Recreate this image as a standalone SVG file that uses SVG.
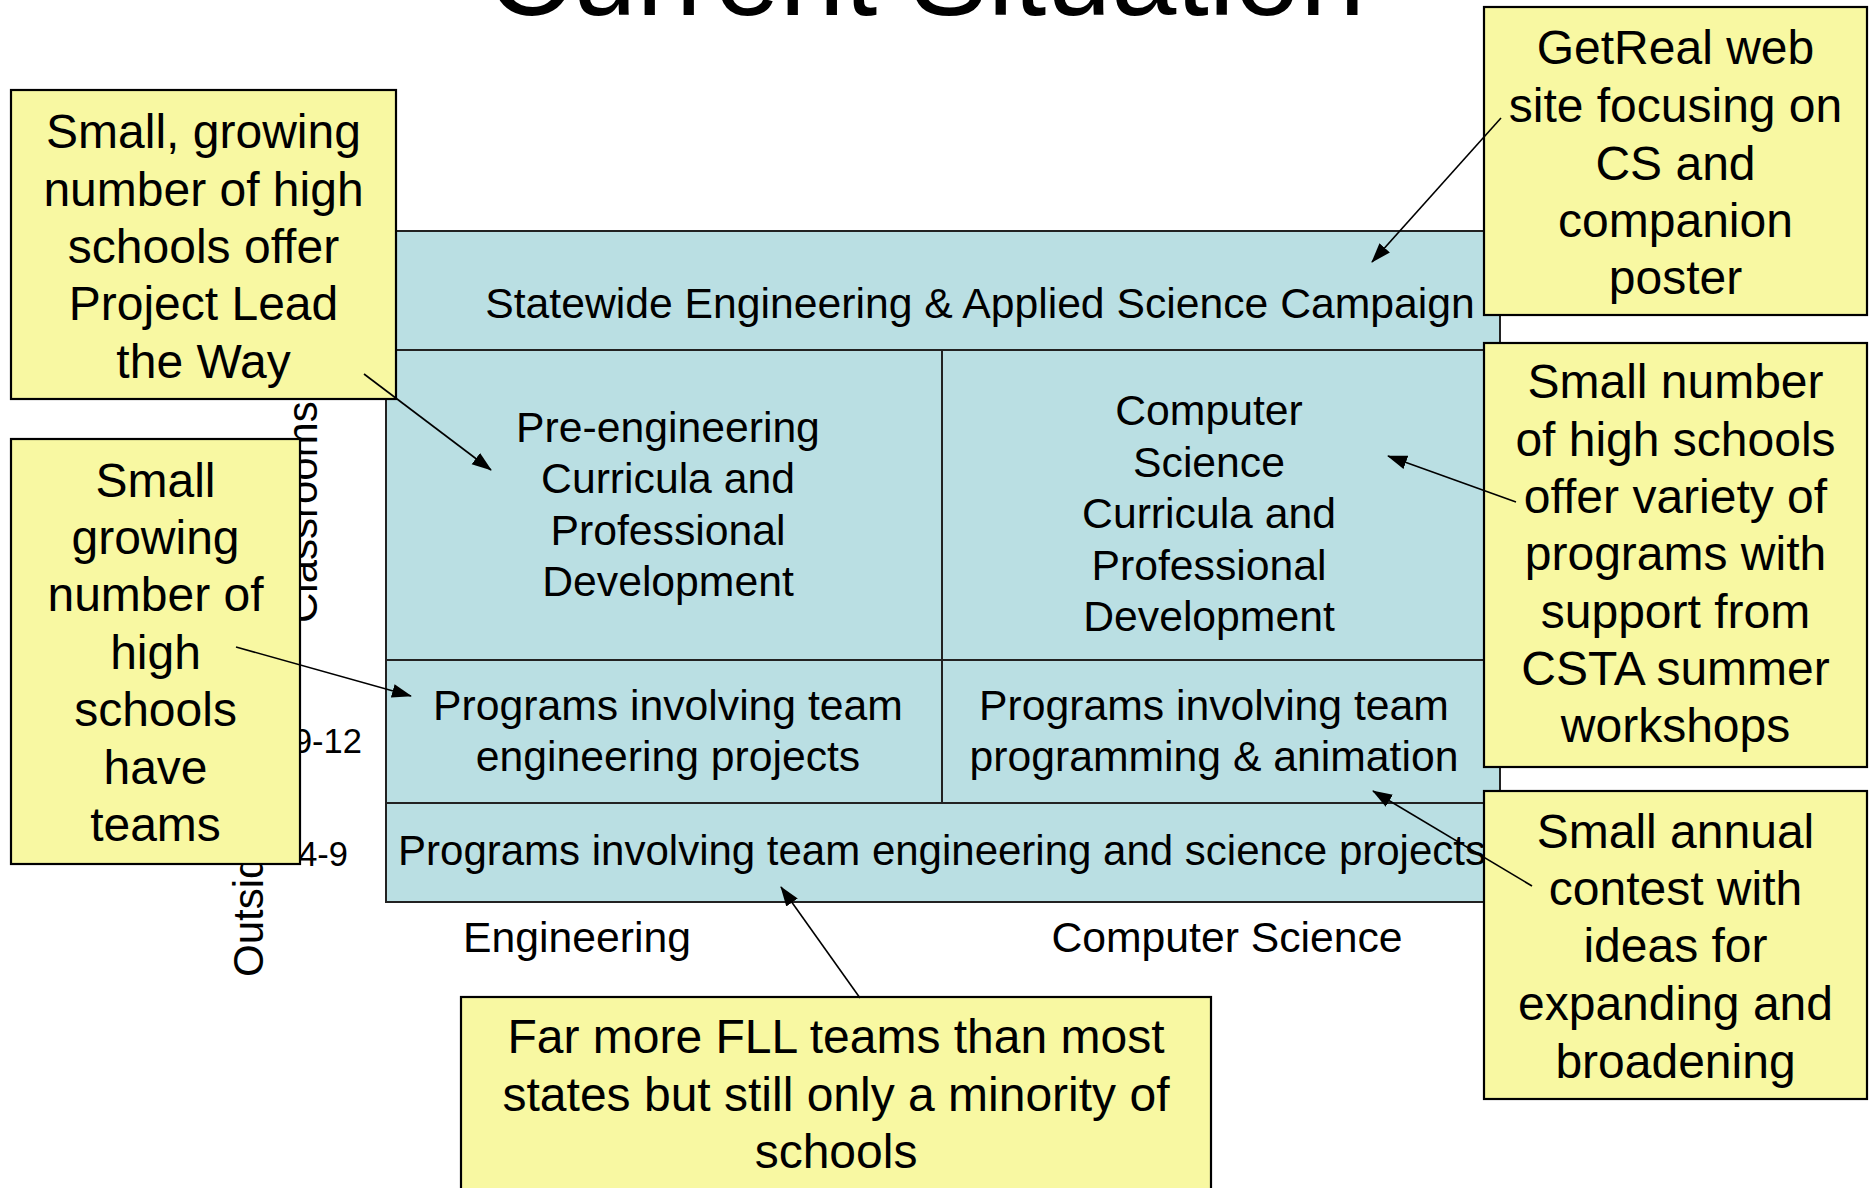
<svg xmlns="http://www.w3.org/2000/svg" width="1875" height="1188" viewBox="0 0 1875 1188">
<style>
text{font-family:"Liberation Sans",Arial,sans-serif;fill:#000}
.t{font-size:42.7px;text-anchor:middle}
.n{font-size:48px;text-anchor:middle}
.ax{font-size:42px}
.g{font-size:34.5px;text-anchor:end}
.cell{fill:#BADFE3;stroke:#222;stroke-width:2}
.div{stroke:#222;stroke-width:2;fill:none}
.note{fill:#F8F8A2;stroke:#000;stroke-width:2.2}
.con{stroke:#000;stroke-width:1.6;fill:none;marker-end:url(#ah)}
</style>
<defs>
<marker id="ah" markerUnits="userSpaceOnUse" markerWidth="20" markerHeight="16" refX="19" refY="8" orient="auto">
<path d="M0,1 L20,8 L0,15 z" fill="#000"/>
</marker>
</defs>
<rect width="1875" height="1188" fill="#fff"/>
<text id="title" x="926" y="15" style="font-size:117px;text-anchor:middle">Current Situation</text>

<g id="axis">
<text class="ax" transform="translate(317,623) rotate(-90)">Classrooms</text>
<text class="ax" transform="translate(263,977) rotate(-90)">Outside</text>
<text class="g" x="362" y="753">9-12</text>
<text class="g" x="348" y="866">4-9</text>
<text class="t" x="577" y="952">Engineering</text>
<text class="t" x="1227" y="952">Computer Science</text>
</g>

<g id="matrix">
<rect class="cell" x="386" y="231" width="1114" height="671"/>
<line class="div" x1="386" y1="350" x2="1500" y2="350"/>
<line class="div" x1="386" y1="660" x2="1500" y2="660"/>
<line class="div" x1="386" y1="803" x2="1500" y2="803"/>
<line class="div" x1="942" y1="350" x2="942" y2="803"/>
</g>
<g id="campaign"><text class="t" x="980" y="318">Statewide Engineering &amp; Applied Science Campaign</text></g>
<g id="pre-eng">
<text class="t" x="668" y="442">Pre-engineering</text>
<text class="t" x="668" y="493">Curricula and</text>
<text class="t" x="668" y="545">Professional</text>
<text class="t" x="668" y="596">Development</text>
</g>
<g id="cs-curricula">
<text class="t" x="1209" y="425">Computer</text>
<text class="t" x="1209" y="477">Science</text>
<text class="t" x="1209" y="528">Curricula and</text>
<text class="t" x="1209" y="580">Professional</text>
<text class="t" x="1209" y="631">Development</text>
</g>
<g id="eng-programs">
<text class="t" x="668" y="720">Programs involving team</text>
<text class="t" x="668" y="771">engineering projects</text>
</g>
<g id="cs-programs">
<text class="t" x="1214" y="720">Programs involving team</text>
<text class="t" x="1214" y="771">programming &amp; animation</text>
</g>
<g id="k-programs"><text class="t" x="942" y="865" style="font-size:42px">Programs involving team engineering and science projects</text></g>

<g id="note-pltw">
<rect class="note" x="11" y="90" width="385" height="309"/>
<text class="n" x="203.5" y="148">Small, growing</text>
<text class="n" x="203.5" y="205.5">number of high</text>
<text class="n" x="203.5" y="263">schools offer</text>
<text class="n" x="203.5" y="320">Project Lead</text>
<text class="n" x="203.5" y="377.5">the Way</text>
</g>
<g id="note-teams">
<rect class="note" x="11" y="439" width="289" height="425"/>
<text class="n" x="155.5" y="497">Small</text>
<text class="n" x="155.5" y="554">growing</text>
<text class="n" x="155.5" y="611">number of</text>
<text class="n" x="155.5" y="669">high</text>
<text class="n" x="155.5" y="726">schools</text>
<text class="n" x="155.5" y="784">have</text>
<text class="n" x="155.5" y="841">teams</text>
</g>
<g id="note-getreal">
<rect class="note" x="1484" y="7" width="383" height="308"/>
<text class="n" x="1675.5" y="64">GetReal web</text>
<text class="n" x="1675.5" y="122">site focusing on</text>
<text class="n" x="1675.5" y="180">CS and</text>
<text class="n" x="1675.5" y="237">companion</text>
<text class="n" x="1675.5" y="294">poster</text>
</g>
<g id="note-csta">
<rect class="note" x="1484" y="343" width="383" height="424"/>
<text class="n" x="1675.5" y="398">Small number</text>
<text class="n" x="1675.5" y="455.5">of high schools</text>
<text class="n" x="1675.5" y="513">offer variety of</text>
<text class="n" x="1675.5" y="570">programs with</text>
<text class="n" x="1675.5" y="628">support from</text>
<text class="n" x="1675.5" y="685">CSTA summer</text>
<text class="n" x="1675.5" y="742">workshops</text>
</g>
<g id="note-contest">
<rect class="note" x="1484" y="791" width="383" height="308"/>
<text class="n" x="1675.5" y="848">Small annual</text>
<text class="n" x="1675.5" y="905">contest with</text>
<text class="n" x="1675.5" y="962">ideas for</text>
<text class="n" x="1675.5" y="1020">expanding and</text>
<text class="n" x="1675.5" y="1078">broadening</text>
</g>
<g id="note-fll">
<rect class="note" x="461" y="997" width="750" height="210"/>
<text class="n" x="836" y="1053">Far more FLL teams than most</text>
<text class="n" x="836" y="1110.5">states but still only a minority of</text>
<text class="n" x="836" y="1168">schools</text>
</g>

<g id="connectors">
<line class="con" x1="364" y1="374" x2="491" y2="470"/>
<line class="con" x1="236" y1="647" x2="411" y2="696"/>
<line class="con" x1="1501" y1="118" x2="1372" y2="262"/>
<line class="con" x1="1516" y1="502" x2="1388" y2="456"/>
<line class="con" x1="1532" y1="886" x2="1373" y2="791"/>
<line class="con" x1="860" y1="998" x2="781" y2="887"/>
</g>
</svg>
